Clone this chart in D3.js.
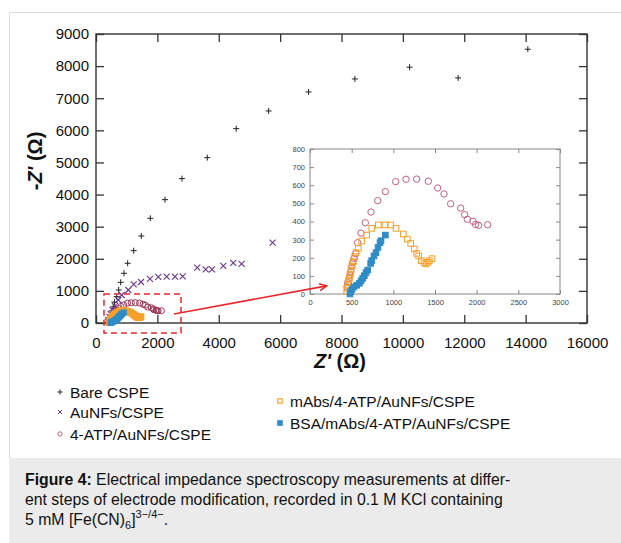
<!DOCTYPE html>
<html>
<head>
<meta charset="utf-8">
<script src="https://cdn.jsdelivr.net/npm/d3@7"></script>
<style>
  body { margin: 0; background: #fff; }
  svg { display: block; font-family: "Liberation Sans", Arial, sans-serif; }
</style>
</head>
<body>
<svg id="chart" width="621" height="543"></svg>
<script>
// Nyquist plots (Z' in ohm, -Z'' in ohm)
const bareX = [400, 420, 450, 480, 520, 560, 600, 674, 739, 804, 912, 1032, 1228, 1476, 1769, 2248, 2801, 3626, 4570, 5625, 6928, 8436, 10218, 11801, 14072];
const bareY = [30, 80, 150, 250, 380, 500, 650, 820, 1028, 1268, 1548, 1860, 2253, 2710, 3261, 3841, 4496, 5150, 6053, 6604, 7196, 7601, 7966, 7632, 8526];

const aunfX = [380, 400, 440, 480, 540, 619, 726, 837, 1052, 1228, 1466, 1759, 2030, 2302, 2573, 2823, 3300, 3573, 3779, 4147, 4473, 4745, 5755];
const aunfY = [40, 100, 180, 280, 400, 530, 716, 872, 1028, 1205, 1277, 1371, 1433, 1443, 1443, 1455, 1723, 1672, 1672, 1776, 1869, 1838, 2502];

const atpX = [444, 452, 468, 480, 488, 500, 512, 528, 548, 572, 612, 664, 732, 812, 904, 1028, 1152, 1280, 1420, 1532, 1608, 1688, 1808, 1856, 1888, 1956, 1988, 2024, 2132];
const atpY = [40, 63, 86, 105, 123, 151, 173, 197, 222, 283, 336, 393, 452, 515, 565, 620, 633, 634, 622, 585, 552, 498, 474, 438, 412, 401, 384, 379, 382];

const mabsX = [440, 448, 456, 464, 472, 480, 492, 504, 520, 536, 552, 580, 620, 680, 740, 820, 900, 968, 1032, 1120, 1168, 1208, 1252, 1280, 1304, 1336, 1368, 1392, 1416, 1432, 1464];
const mabsY = [13, 31, 50, 68, 86, 108, 132, 154, 178, 206, 228, 252, 292, 325, 362, 381, 381, 381, 362, 331, 303, 279, 248, 224, 210, 184, 173, 166, 175, 184, 195];

const bsaX = [480, 488, 504, 528, 560, 592, 612, 632, 652, 672, 692, 728, 740, 768, 792, 816, 840, 852, 904];
const bsaY = [0, 13, 26, 39, 48, 59, 72, 86, 101, 118, 132, 169, 184, 210, 228, 257, 283, 294, 325];

const seriesNames = ["Bare CSPE", "AuNFs/CSPE", "4-ATP/AuNFs/CSPE", "mAbs/4-ATP/AuNFs/CSPE", "BSA/mAbs/4-ATP/AuNFs/CSPE"];

const mainXTicks = [0, 2000, 4000, 6000, 8000, 10000, 12000, 14000, 16000];
const mainYTicks = [0, 1000, 2000, 3000, 4000, 5000, 6000, 7000, 8000, 9000];
const insetXTicks = [0, 500, 1000, 1500, 2000, 2500, 3000];
const insetYTicks = [0, 100, 200, 300, 400, 500, 600, 700, 800];

// zoom box (main data coords) and arrow (main -> inset data coords)
const zoomBox = [260, 2770, -310, 900];
const arrowFrom = [2540, 280];
const arrowTo = [200, 45];

const svg = d3.select('#chart');

// figure frame and caption panel
svg.append('path')
    .attr('d', 'M9.5,543 V12.5 H621')
    .attr('fill', 'none')
    .attr('stroke', '#dcdcdc');
svg.append('rect')
    .attr('x', 9).attr('y', 458).attr('width', 612).attr('height', 85)
    .attr('fill', '#ebebeb');

const M = { left: 96, right: 587, top: 34, bottom: 323 };
const x = d3.scaleLinear().domain([0, 16000]).range([M.left, M.right]);
const y = d3.scaleLinear().domain([0, 9000]).range([M.bottom, M.top]);

const I = { left: 310, right: 560, top: 149, bottom: 294 };
const ix = d3.scaleLinear().domain([0, 3000]).range([I.left, I.right]);
const iy = d3.scaleLinear().domain([0, 800]).range([I.bottom, I.top]);

const zip = (xs, ys) => xs.map((v, i) => [v, ys[i]]);

function drawPlus(g, pts, sx, sy, r, color, w) {
    g.selectAll(null).data(pts).join('path')
        .attr('d', d => {
            const px = sx(d[0]), py = sy(d[1]);
            return `M${px - r},${py}H${px + r}M${px},${py - r}V${py + r}`;
        })
        .attr('stroke', color).attr('stroke-width', w).attr('fill', 'none');
}
function drawCross(g, pts, sx, sy, r, color, w) {
    g.selectAll(null).data(pts).join('path')
        .attr('d', d => {
            const px = sx(d[0]), py = sy(d[1]);
            return `M${px - r},${py - r}L${px + r},${py + r}M${px - r},${py + r}L${px + r},${py - r}`;
        })
        .attr('stroke', color).attr('stroke-width', w).attr('fill', 'none');
}
function drawCircle(g, pts, sx, sy, r, color, w) {
    g.selectAll(null).data(pts).join('circle')
        .attr('cx', d => sx(d[0])).attr('cy', d => sy(d[1])).attr('r', r)
        .attr('fill', 'none').attr('stroke', color).attr('stroke-width', w);
}
function drawSquare(g, pts, sx, sy, r, color, w, filled) {
    g.selectAll(null).data(pts).join('rect')
        .attr('x', d => sx(d[0]) - r).attr('y', d => sy(d[1]) - r)
        .attr('width', 2 * r).attr('height', 2 * r)
        .attr('fill', filled ? color : 'none')
        .attr('stroke', color).attr('stroke-width', w);
}

const C = { bare: '#222', aunf: '#6b3590', atp: '#9c3457', atpIn: '#c4607c', mabs: '#f5a02c', bsa: '#2f8cc6' };

// ---- main axes ----
const main = svg.append('g');
main.append('g')
    .attr('transform', `translate(0,${M.bottom})`)
    .call(d3.axisBottom(x).tickValues(mainXTicks).tickSize(-8).tickPadding(14).tickFormat(d3.format('d')))
    .call(g => g.select('.domain').remove())
    .call(g => g.selectAll('text').attr('font-size', 15).attr('fill', '#111'));
main.append('g')
    .attr('transform', `translate(0,${M.top})`)
    .call(d3.axisTop(x).tickValues(mainXTicks).tickSize(-8).tickFormat(''))
    .call(g => g.select('.domain').remove());
main.append('g')
    .attr('transform', `translate(${M.left},0)`)
    .call(d3.axisLeft(y).tickValues(mainYTicks).tickSize(-8).tickPadding(7).tickFormat(d3.format('d')))
    .call(g => g.select('.domain').remove())
    .call(g => g.selectAll('text').attr('font-size', 15).attr('fill', '#111'));
main.append('g')
    .attr('transform', `translate(${M.right},0)`)
    .call(d3.axisRight(y).tickValues(mainYTicks).tickSize(-8).tickFormat(''))
    .call(g => g.select('.domain').remove());
main.selectAll('.tick line').attr('stroke', '#333').attr('stroke-width', 1.3);
main.append('rect')
    .attr('x', M.left).attr('y', M.top)
    .attr('width', M.right - M.left).attr('height', M.bottom - M.top)
    .attr('fill', 'none').attr('stroke', '#333').attr('stroke-width', 1.4);

// axis titles
svg.append('text')
    .attr('x', 340).attr('y', 368).attr('text-anchor', 'middle')
    .attr('font-size', 20).attr('font-weight', 'bold').attr('fill', '#111')
    .html('<tspan font-style="italic">Z\'</tspan> (Ω)');
svg.append('text')
    .attr('transform', 'translate(42,161) rotate(-90)')
    .attr('text-anchor', 'middle')
    .attr('font-size', 20).attr('font-weight', 'bold').attr('fill', '#111')
    .html('-<tspan font-style="italic">Z\'</tspan> (Ω)');

// ---- main data ----
const md = main.append('g');
drawPlus(md, zip(bareX, bareY), x, y, 3, C.bare, 1);
drawCross(md, zip(aunfX, aunfY), x, y, 3, C.aunf, 1.1);
drawCircle(md, zip(atpX, atpY), x, y, 3, C.atp, 1);
drawSquare(md, zip(mabsX, mabsY), x, y, 2.6, C.mabs, 1.6, false);
drawSquare(md, zip(bsaX, bsaY), x, y, 2.6, C.bsa, 1, true);

// zoom box
md.append('rect')
    .attr('x', x(zoomBox[0])).attr('y', y(zoomBox[3]))
    .attr('width', x(zoomBox[1]) - x(zoomBox[0]))
    .attr('height', y(zoomBox[2]) - y(zoomBox[3]))
    .attr('fill', 'none').attr('stroke', '#e8262a')
    .attr('stroke-width', 1.5).attr('stroke-dasharray', '6,4');

// ---- inset ----
const inset = svg.append('g');
inset.append('rect')
    .attr('x', I.left).attr('y', I.top)
    .attr('width', I.right - I.left).attr('height', I.bottom - I.top)
    .attr('fill', '#fff');
inset.append('g')
    .attr('transform', `translate(0,${I.bottom})`)
    .call(d3.axisBottom(ix).tickValues(insetXTicks).tickSize(-4).tickPadding(6).tickFormat(d3.format('d')))
    .call(g => g.select('.domain').remove());
inset.append('g')
    .attr('transform', `translate(0,${I.top})`)
    .call(d3.axisTop(ix).tickValues(insetXTicks).tickSize(-4).tickFormat(''))
    .call(g => g.select('.domain').remove());
inset.append('g')
    .attr('transform', `translate(${I.left},0)`)
    .call(d3.axisLeft(iy).tickValues(insetYTicks).tickSize(-4).tickPadding(5).tickFormat(d3.format('d')))
    .call(g => g.select('.domain').remove());
inset.append('g')
    .attr('transform', `translate(${I.right},0)`)
    .call(d3.axisRight(iy).tickValues(insetYTicks).tickSize(-4).tickFormat(''))
    .call(g => g.select('.domain').remove());
inset.selectAll('.tick line').attr('stroke', '#888');
inset.selectAll('.tick text').attr('font-size', 7.5).attr('fill', '#444');
inset.append('rect')
    .attr('x', I.left).attr('y', I.top)
    .attr('width', I.right - I.left).attr('height', I.bottom - I.top)
    .attr('fill', 'none').attr('stroke', '#888').attr('stroke-width', 1);

const idt = inset.append('g');
drawCircle(idt, zip(atpX, atpY), ix, iy, 3.2, C.atpIn, 1);
drawSquare(idt, zip(mabsX, mabsY), ix, iy, 2.8, C.mabs, 1, false);
drawSquare(idt, zip(bsaX, bsaY), ix, iy, 2.8, C.bsa, 1, true);

// arrow from zoom box into the inset
const ax0 = x(arrowFrom[0]), ay0 = y(arrowFrom[1]);
const ax1 = ix(arrowTo[0]), ay1 = iy(arrowTo[1]);
svg.append('line')
    .attr('x1', ax0).attr('y1', ay0).attr('x2', ax1).attr('y2', ay1)
    .attr('stroke', '#e8262a').attr('stroke-width', 1.6);
const ang = Math.atan2(ay1 - ay0, ax1 - ax0);
const hl = 8, hw = 0.45;
svg.append('path')
    .attr('d', `M${ax1 - hl * Math.cos(ang - hw)},${ay1 - hl * Math.sin(ang - hw)}L${ax1},${ay1}L${ax1 - hl * Math.cos(ang + hw)},${ay1 - hl * Math.sin(ang + hw)}`)
    .attr('fill', 'none').attr('stroke', '#e8262a').attr('stroke-width', 1.6);

// ---- legend ----
const legendPos = [[60, 392], [60, 412], [60, 434], [280, 401], [280, 423]];
const lg = svg.append('g');
const lx = d3.scaleLinear(), ly = d3.scaleLinear(); // identity
drawPlus(lg, [legendPos[0]], lx, ly, 2.5, C.bare, 1);
drawCross(lg, [legendPos[1]], lx, ly, 2.2, C.aunf, 1);
drawCircle(lg, [legendPos[2]], lx, ly, 2.2, C.atpIn, 1);
drawSquare(lg, [legendPos[3]], lx, ly, 2.2, C.mabs, 1.2, false);
drawSquare(lg, [legendPos[4]], lx, ly, 2.3, C.bsa, 1, true);
lg.selectAll('text').data(seriesNames).join('text')
    .attr('x', (d, i) => legendPos[i][0] + 10)
    .attr('y', (d, i) => legendPos[i][1] + 6)
    .attr('font-size', 15.5).attr('fill', '#111')
    .text(d => d);

// ---- caption ----
const cap = svg.append('text').attr('font-size', 15.8).attr('fill', '#111');
cap.append('tspan').attr('x', 25).attr('y', 485).attr('font-weight', 'bold').text('Figure 4:');
cap.append('tspan').text(' Electrical impedance spectroscopy measurements at differ-');
cap.append('tspan').attr('x', 25).attr('y', 505).text('ent steps of electrode modification, recorded in 0.1 M KCl containing');
cap.append('tspan').attr('x', 25).attr('y', 525).text('5 mM [Fe(CN)');
cap.append('tspan').attr('dy', 4).attr('font-size', 11).text('6');
cap.append('tspan').attr('dy', -4).text(']');
cap.append('tspan').attr('dy', -7).attr('font-size', 11).text('3\u2212/4\u2212');
cap.append('tspan').attr('dy', 7).text('.');
</script>
</body>
</html>
